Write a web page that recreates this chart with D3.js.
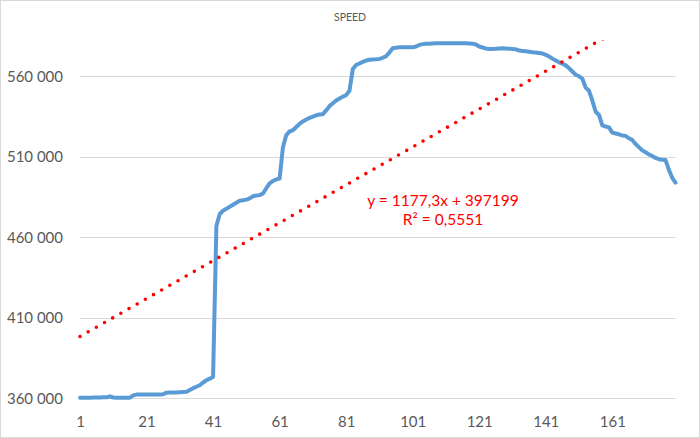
<!DOCTYPE html>
<html>
<head>
<meta charset="utf-8">
<script src="https://cdn.jsdelivr.net/npm/d3@7"></script>
<style>
  html, body { margin: 0; padding: 0; background: #fff; }
  svg { display: block; }
</style>
</head>
<body>
<svg id="chart" width="700" height="438"></svg>
<script>
const title = "SPEED";
const speed = [
  360400, 360400, 360300, 360400, 360500, 360500, 360500, 360600, 360600, 361200,
  360500, 360300, 360300, 360300, 360300, 360400, 361800, 362300, 362400, 362400,
  362300, 362300, 362300, 362300, 362400, 362500, 363500, 363600, 363600, 363600,
  363800, 363900, 364000, 365200, 366300, 367200, 368100, 369800, 371200, 372200,
  373300, 467000, 474500, 476500, 477800, 479000, 480200, 481500, 482700, 483000,
  483400, 484200, 485500, 486000, 486200, 487200, 490500, 493500, 495000, 496000,
  496500, 516000, 523500, 525800, 526500, 528500, 530500, 532000, 533200, 534200,
  535000, 535800, 536300, 536500, 538800, 541500, 543300, 545000, 546200, 547400,
  548300, 551000, 564500, 567000, 568000, 569000, 569800, 570300, 570500, 570600,
  570800, 571500, 572500, 574800, 577400, 577800, 578000, 578100, 578100, 578100,
  578000, 578500, 579500, 580000, 580200, 580300, 580400, 580500, 580500, 580500,
  580500, 580500, 580500, 580500, 580500, 580500, 580500, 580400, 580300, 579800,
  578500, 577900, 577300, 577000, 577000, 577100, 577300, 577400, 577300, 577200,
  577000, 576800, 576000, 575800, 575600, 575300, 575000, 574800, 574500, 574200,
  573300, 572300, 571000, 569800, 568700, 567800, 566800, 565000, 563000, 561000,
  560000, 558500, 553000, 551000, 545000, 538000, 536000, 529500, 528800, 528300,
  525000, 524500, 524000, 523300, 523000, 521500, 520500, 518000, 516000, 514000,
  512800, 511500, 510500, 509300, 508500, 508200, 508000, 502000, 497000, 494000
];
const categories = speed.map((d, i) => i + 1);
const xTickLabels = [1, 21, 41, 61, 81, 101, 121, 141, 161];
const yTicks = [360000, 410000, 460000, 510000, 560000];
const trendSlope = 1177.3;
const trendIntercept = 397199;
const trendLabel1 = "y = 1177,3x + 397199";
const trendLabel2 = "R² = 0,5551";

(function () {
const svg = d3.select("#chart");
const W = 700, H = 438;
const pLeft = 80, pRight = 675.5, pTop = 40.1, pBottom = 398.3;

svg.append("rect").attr("x", 0.5).attr("y", 0.5).attr("width", W - 1).attr("height", H - 1)
  .attr("fill", "#fff").attr("stroke", "#D9D9D9");

const x = d3.scaleLinear().domain([1, categories.length]).range([pLeft, pRight]);
const y = d3.scaleLinear().domain([360000, 582500]).range([pBottom, pTop]);

const fmt = d3.formatLocale({decimal: ",", thousands: " ", grouping: [3], currency: ["", ""]}).format(",d");

const font = "Lato, 'Open Sans', sans-serif";

svg.append("g").selectAll("line").data(yTicks).join("line")
  .attr("x1", pLeft).attr("x2", pRight)
  .attr("y1", d => Math.round(y(d)) + 0.5).attr("y2", d => Math.round(y(d)) + 0.5)
  .attr("stroke", "#D9D9D9").attr("stroke-width", 1);

const yAxis = d3.axisLeft(y).tickValues(yTicks).tickFormat(fmt).tickSize(0).tickPadding(0);
const gy = svg.append("g").attr("transform", `translate(${63},0)`).call(yAxis);
gy.select(".domain").remove();
gy.selectAll("text").attr("font-family", font).attr("font-size", 15).attr("fill", "#595959");

const xAxis = d3.axisBottom(x).tickValues(xTickLabels).tickFormat(d => d).tickSize(0).tickPadding(0);
const gx = svg.append("g").attr("transform", `translate(0,${416})`).call(xAxis);
gx.select(".domain").remove();
gx.selectAll("text").attr("font-family", font).attr("font-size", 15).attr("fill", "#595959").attr("dy", "0.71em");

svg.append("clipPath").attr("id", "plotclip").append("rect")
  .attr("x", pLeft - 5).attr("y", pTop).attr("width", pRight - pLeft + 10).attr("height", pBottom - pTop + 10);

const line = d3.line().x((d, i) => x(categories[i])).y(d => y(d));
svg.append("path").datum(speed)
  .attr("d", line)
  .attr("fill", "none").attr("stroke", "#5B9BD5").attr("stroke-width", 4)
  .attr("stroke-linejoin", "round").attr("stroke-linecap", "round");

const trendPts = [1, categories.length].map(c => [c, trendSlope * c + trendIntercept]);
svg.append("path").datum(trendPts)
  .attr("clip-path", "url(#plotclip)")
  .attr("d", d3.line().x(d => x(d[0])).y(d => y(d[1])))
  .attr("fill", "none").attr("stroke", "#FF0000").attr("stroke-width", 3.6)
  .attr("stroke-linecap", "round").attr("stroke-dasharray", "0 9.4");

svg.append("text").attr("x", 350).attr("y", 20.5).attr("text-anchor", "middle")
  .attr("font-family", font).attr("font-size", 10.5).attr("fill", "#595959").text(title);

svg.append("text").attr("x", 443).attr("y", 206).attr("text-anchor", "middle")
  .attr("font-family", font).attr("font-size", 15.5).attr("fill", "#FF0000").text(trendLabel1);
svg.append("text").attr("x", 443).attr("y", 225).attr("text-anchor", "middle")
  .attr("font-family", font).attr("font-size", 15.5).attr("fill", "#FF0000").text(trendLabel2);
})();
</script>
</body>
</html>
